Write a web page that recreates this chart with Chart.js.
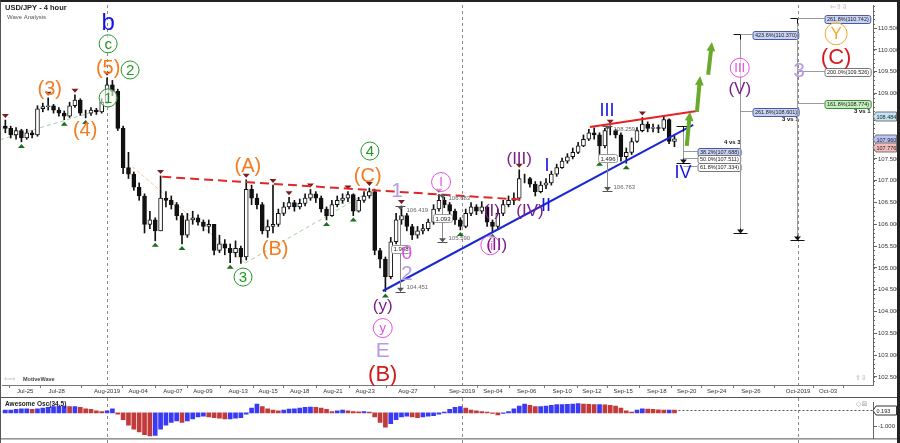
<!DOCTYPE html>
<html>
<head>
<meta charset="utf-8">
<script src="https://cdn.jsdelivr.net/npm/chart.js@4.4.0/dist/chart.umd.min.js"></script>
<style>
  html, body { margin: 0; padding: 0; background: #fff; }
  #wrap { position: relative; width: 900px; height: 443px; overflow: hidden; }
  #price { position: absolute; left: 0; top: 0; }
  #osc { position: absolute; left: 0; top: 398px; }
  #frame { position: absolute; left: 0; top: 0; width: 900px; height: 443px; box-sizing: border-box;
           border-top: 2px solid #222; border-left: 1px solid #555; border-right: 3px solid #222; pointer-events: none; }
</style>
</head>
<body>
<div id="wrap">
  <canvas id="price" width="900" height="398"></canvas>
  <canvas id="osc" width="900" height="45"></canvas>
  <div id="frame"></div>
</div>
<script>
'use strict';

// time axis (bar index units, 3 bars per trading day)
const tickLabels = ['Jul-25', 'Jul-28', 'Aug-2019', 'Aug-04', 'Aug-07', 'Aug-09', 'Aug-13', 'Aug-15',
  'Aug-18', 'Aug-21', 'Aug-23', 'Aug-27', 'Sep-2019', 'Sep-04', 'Sep-06', 'Sep-10', 'Sep-12',
  'Sep-15', 'Sep-18', 'Sep-20', 'Sep-24', 'Sep-26', 'Oct-2019', 'Oct-03'];
const tickBars = [4.7, 10.6, 20.0, 25.8, 32.3, 37.9, 44.5, 50.1, 56.0, 62.2, 68.2, 76.2, 86.3,
  92.1, 98.4, 105.0, 110.6, 116.4, 122.7, 128.3, 133.9, 140.3, 149.1, 154.7];
const monthStarts = ['Aug-2019', 'Sep-2019', 'Oct-2019'];
const priceTicks = [102.5, 103, 103.5, 104, 104.5, 105, 105.5, 106, 106.5, 107, 107.5, 108,
  108.5, 109, 109.5, 110, 110.5];

// USD/JPY 8h-ish bars
const firstOpen = 108.15;
const closes = [108.25, 108.20, 108.05, 108.15, 107.98, 108.10, 108.05, 108.65, 108.70, 108.72,
  108.62, 108.55, 108.48, 108.72, 108.85, 108.55, 108.55, 108.62, 108.58, 108.80,
  109.20, 109.05, 108.20, 107.30, 107.15, 106.85, 106.65, 106.00, 106.10, 105.85,
  106.60, 106.55, 106.45, 106.20, 105.75, 106.10, 106.15, 106.05, 105.95, 106.00,
  105.40, 105.55, 105.45, 105.35, 105.45, 105.25, 106.80, 106.60, 106.45, 105.85,
  105.95, 106.00, 106.25, 106.40, 106.50, 106.40, 106.48, 106.60, 106.70, 106.60,
  106.35, 106.20, 106.45, 106.55, 106.60, 106.68, 106.30, 106.55, 106.65, 106.75,
  105.40, 105.20, 104.80, 105.60, 106.10, 106.20, 105.95, 105.75, 105.85, 105.90,
  106.05, 106.35, 106.55, 106.45, 106.30, 106.10, 105.95, 106.25, 106.40, 106.30,
  106.40, 106.05, 105.95, 106.25, 106.45, 106.55, 106.60, 107.05, 107.05, 106.92,
  106.75, 106.90, 106.95, 107.15, 107.30, 107.45, 107.55, 107.65, 107.80, 107.95,
  108.10, 108.05, 107.80, 108.15, 108.15, 108.05, 107.55, 107.65, 107.90, 108.15,
  108.30, 108.20, 108.22, 108.20, 108.40, 107.90, 107.96];
const highs = [108.35, 108.39, 108.25, 108.22, 108.18, 108.18, 108.15, 108.72, 108.78, 108.90,
  108.75, 108.68, 108.60, 108.80, 108.97, 108.88, 108.62, 108.68, 108.66, 108.88,
  109.36, 109.30, 109.10, 108.25, 107.65, 107.20, 106.95, 106.70, 106.30, 106.15,
  107.11, 106.75, 106.65, 106.50, 106.25, 106.25, 106.30, 106.22, 106.10, 106.10,
  106.00, 105.75, 105.65, 105.55, 105.62, 105.50, 107.02, 106.90, 106.70, 106.50,
  106.10, 106.90, 106.35, 106.50, 106.62, 106.55, 106.58, 106.70, 106.80, 106.75,
  106.65, 106.40, 106.55, 106.65, 106.70, 106.75, 106.70, 106.62, 106.75, 106.83,
  106.80, 105.45, 105.25, 105.70, 106.25, 106.42, 106.25, 106.00, 105.95, 106.00,
  106.12, 106.45, 106.68, 106.62, 106.50, 106.35, 106.15, 106.35, 106.50, 106.45,
  106.52, 106.42, 106.10, 106.35, 106.55, 106.65, 106.72, 107.25, 107.15, 107.08,
  106.98, 106.98, 107.05, 107.22, 107.38, 107.52, 107.62, 107.75, 107.88, 108.05,
  108.18, 108.21, 108.10, 108.20, 108.26, 108.18, 108.10, 107.75, 107.98, 108.22,
  108.45, 108.35, 108.30, 108.28, 108.48, 108.42, 108.05];
const lows = [108.10, 108.10, 107.98, 107.95, 107.89, 107.95, 107.98, 108.02, 108.58, 108.62,
  108.55, 108.48, 108.40, 108.45, 108.68, 108.50, 108.44, 108.50, 108.52, 108.55,
  108.78, 108.95, 108.15, 107.16, 107.05, 106.78, 106.55, 105.80, 105.90, 105.62,
  105.85, 106.40, 106.35, 106.10, 105.55, 105.70, 106.00, 105.98, 105.85, 105.80,
  105.30, 105.35, 105.30, 105.12, 105.25, 105.10, 105.18, 106.45, 106.35, 105.78,
  105.70, 105.80, 105.95, 106.20, 106.35, 106.30, 106.35, 106.42, 106.55, 106.50,
  106.28, 106.10, 106.18, 106.40, 106.48, 106.52, 106.20, 106.28, 106.50, 106.60,
  105.30, 105.00, 104.46, 104.75, 105.55, 106.00, 105.85, 105.65, 105.68, 105.78,
  105.85, 106.00, 106.30, 106.38, 106.22, 106.00, 105.87, 105.92, 106.20, 106.22,
  106.25, 105.95, 105.83, 105.90, 106.20, 106.40, 106.45, 106.55, 106.95, 106.85,
  106.65, 106.72, 106.82, 106.90, 107.10, 107.28, 107.40, 107.50, 107.62, 107.78,
  107.92, 107.95, 107.48, 107.75, 108.05, 107.98, 107.45, 107.40, 107.60, 107.88,
  108.12, 108.12, 108.12, 108.10, 108.15, 107.85, 107.78];

// Awesome Oscillator, one value per bar
const aoValues = [0.15, 0.2, 0.2, 0.25, 0.3, 0.3, 0.25, 0.3, 0.35, 0.4,
  0.45, 0.5, 0.5, 0.45, 0.45, 0.4, 0.3, 0.25, 0.15, 0.1,
  0.15, 0.3, -0.1, -0.5, -0.9, -1.2, -1.4, -1.6, -1.7, -1.65,
  -1.2, -0.9, -0.7, -0.6, -0.7, -0.6, -0.45, -0.3, -0.25, -0.3,
  -0.35, -0.4, -0.45, -0.45, -0.4, -0.35, -0.1, 0.35, 0.65, 0.45,
  0.3, 0.2, 0.15, 0.2, 0.28, 0.3, 0.35, 0.4, 0.42, 0.4,
  0.35, 0.25, 0.1, 0.15, 0.2, 0.15, 0.1, 0.08, 0.1, 0.05,
  -0.3, -0.7, -1.05, -0.8, -0.5, -0.3, -0.25, -0.3, -0.35, -0.3,
  -0.25, -0.2, -0.1, 0.05, 0.25, 0.4, 0.45, 0.35, 0.2, 0.15,
  0.1, 0.05, -0.05, -0.15, -0.05, 0.1, 0.3, 0.5, 0.65, 0.55,
  0.45, 0.45, 0.5, 0.55, 0.6, 0.6, 0.62, 0.65, 0.67, 0.65,
  0.62, 0.6, 0.6, 0.58, 0.55, 0.5, 0.35, 0.15, 0.05, 0.2,
  0.3, 0.28, 0.25, 0.22, 0.2, 0.2, 0.193];
const aoTicks = [-1];

// swing markers (bar indexes)
const highMarks = [1, 9, 14, 20, 30, 46, 51, 54, 58, 65, 69, 75, 82, 97, 114, 120];
const lowMarks = [4, 12, 16, 29, 34, 43, 61, 66, 72, 86, 92, 112, 117];

// wave labels: text, bar, price, degree
const waveLabels = [
  ['b', 20.2, 110.64, 'blueBig'], ['c', 20.2, 110.14, 'greenCircle'], ['(5)', 20.2, 109.61, 'orange'],
  ['2', 24.3, 109.54, 'greenCircle'], ['(3)', 9.3, 109.13, 'orange'], ['(4)', 15.9, 108.17, 'orange'],
  ['1', 20.2, 108.90, 'greenCircle'], ['(A)', 46.3, 107.36, 'orange'], ['(B)', 51.4, 105.46, 'orange'],
  ['3', 45.4, 104.79, 'greenCircle'], ['4', 69.1, 107.68, 'greenCircle'], ['(C)', 68.7, 107.13, 'orange'],
  ['1', 74.2, 106.79, 'lavender'], ['0', 76.0, 105.34, 'pink'], ['2', 76.0, 104.89, 'lavender'],
  ['(y)', 71.5, 104.15, 'purple'], ['y', 71.5, 103.62, 'pinkCircle'], ['E', 71.5, 103.12, 'lavender'],
  ['(B)', 71.5, 102.57, 'red'], ['I', 82.4, 106.97, 'pinkCircle'], ['(I)', 91.9, 106.31, 'purple'],
  ['ii', 91.6, 105.52, 'pinkCircle'], ['(II)', 92.8, 105.53, 'purple'], ['(III)', 97.0, 107.52, 'purple'],
  ['(IV)', 99.0, 106.33, 'purple'], ['I', 102.2, 107.36, 'blue'], ['II', 102.0, 106.44, 'blue'],
  ['III', 113.4, 108.62, 'blue'], ['IV', 127.6, 107.20, 'blue'], ['III', 138.2, 109.59, 'pinkCircle'],
  ['(V)', 138.2, 109.13, 'purple'], ['3', 149.3, 109.54, 'lavender'], ['Y', 156.2, 110.37, 'orangeCircle'],
  ['(C)', 156.2, 109.84, 'red']
];

// trend lines: bar1, price1, bar2, price2, kind
const trendLines = [
  [0, 107.94, 20.5, 108.69, 'greenDash'],
  [24.7, 107.32, 45.8, 105.11, 'peachDash'],
  [45.8, 105.11, 70.1, 106.83, 'greenDash'],
  [30.3, 107.09, 98.1, 106.56, 'redDash'],
  [110.2, 108.23, 130.2, 108.60, 'red'],
  [71.5, 104.47, 129.5, 108.28, 'blue']
];
const projArrows = [
  [128.3, 107.80, 128.9, 108.58],
  [130.2, 108.58, 130.8, 109.40],
  [132.3, 109.43, 133.0, 110.18]
];

// price measurements: bar, top, bottom
const measures = [[74.7, 106.419, 104.451], [82.6, 106.683, 105.590], [113.4, 108.259, 106.763]];

// fibonacci projection tools
const fibTools = [
  { bar: 127.6, top: 108.259, bottom: 107.40, note: '4 vs 3', noteAt: 0, noteSide: -1,
    levels: [['38.2%', 107.688], ['50.0%', 107.511], ['61.8%', 107.334]] },
  { bar: 138.2, top: 110.370, bottom: 105.80, note: '3 vs 1', noteAt: 1, noteSide: 1,
    levels: [['423.6%', 110.370], ['261.8%', 108.601]] },
  { bar: 148.9, top: 110.742, bottom: 105.64, note: '3 vs 1', noteAt: 2, noteSide: 1,
    levels: [['261.8%', 110.742], ['200.0%', 109.526], ['161.8%', 108.774]] }
];
const axisQuotes = [['108.484', 'last'], ['107.960', 'ask'], ['107.776', 'bid']];

// ---- styles ----
const FONT = 'Arial, "Liberation Sans", sans-serif';
Chart.defaults.font.family = FONT;
const waveStyles = {
  orange: { color: '#f47b20', size: 20 },
  blueBig: { color: '#1414e6', size: 24 },
  blue: { color: '#1414e6', size: 18 },
  greenCircle: { color: '#249624', size: 15, r: 9 },
  purple: { color: '#7b1f8a', size: 17 },
  pink: { color: '#e24fe2', size: 19 },
  pinkCircle: { color: '#e24fe2', size: 13, r: 9.5 },
  lavender: { color: '#b79be9', size: 21 },
  red: { color: '#d61a1a', size: 22 },
  orangeCircle: { color: '#f4a62e', size: 17, r: 11 }
};
const lineStyles = {
  greenDash: { color: '#9fd39a', width: 1, dash: [4, 3] },
  peachDash: { color: '#f6c8a4', width: 1, dash: [4, 2] },
  redDash: { color: '#e02828', width: 2, dash: [9, 5] },
  red: { color: '#e82020', width: 2, dash: [] },
  blue: { color: '#1a28d2', width: 2, dash: [] }
};
const fibBoxStyle = {
  '38.2%': ['#c9d3f3', '#4a5aa8'], '423.6%': ['#c9d3f3', '#4a5aa8'], '261.8%': ['#c9d3f3', '#4a5aa8'],
  '50.0%': ['#ffffff', '#777777'], '61.8%': ['#ffffff', '#777777'], '200.0%': ['#ffffff', '#777777'],
  '161.8%': ['#c8efc0', '#3c8a3c']
};
const fibGaps = [14, 12, 27];
const quoteStyle = { last: '#c3e4f5', ask: '#b9c3f7', bid: '#f5baba' };

const opens = closes.map((c, i) => (i === 0 ? firstOpen : closes[i - 1]));

function roundBox(ctx, text, left, cy, fill, stroke, font) {
  ctx.font = font;
  const w = ctx.measureText(text).width + 4;
  ctx.beginPath();
  ctx.roundRect(left + 0.5, Math.round(cy - 4) + 0.5, w, 8, 2);
  ctx.fillStyle = fill;
  ctx.fill();
  ctx.strokeStyle = stroke;
  ctx.lineWidth = 1;
  ctx.stroke();
  ctx.fillStyle = '#222';
  ctx.textAlign = 'left';
  ctx.textBaseline = 'middle';
  ctx.fillText(text, left + 2.5, cy + 0.5);
  return w;
}

function tri(ctx, x, y, down, color) {
  ctx.fillStyle = color;
  ctx.beginPath();
  if (down) { ctx.moveTo(x - 3.5, y - 4); ctx.lineTo(x + 3.5, y - 4); ctx.lineTo(x, y); }
  else { ctx.moveTo(x - 3.5, y + 4); ctx.lineTo(x + 3.5, y + 4); ctx.lineTo(x, y); }
  ctx.closePath();
  ctx.fill();
}

function quoteBox(ctx, a, py, text, fill, stroke) {
  ctx.beginPath();
  ctx.moveTo(a.right, py); ctx.lineTo(a.right + 3, py - 4.5); ctx.lineTo(896.5, py - 4.5);
  ctx.lineTo(896.5, py + 4.5); ctx.lineTo(a.right + 3, py + 4.5); ctx.closePath();
  ctx.fillStyle = fill; ctx.fill();
  ctx.strokeStyle = stroke; ctx.lineWidth = 1; ctx.stroke();
  ctx.font = '5.5px ' + FONT; ctx.fillStyle = '#222'; ctx.textAlign = 'left'; ctx.textBaseline = 'middle';
  ctx.fillText(text, a.right + 3.5, py + 0.5);
}

function monthLines(chart, y0, y1) {
  const { ctx, scales: { x } } = chart;
  ctx.save();
  ctx.setLineDash([3, 3]);
  ctx.strokeStyle = '#8a8a8a';
  ctx.lineWidth = 1;
  monthStarts.forEach(m => {
    const px = Math.round(x.getPixelForValue(tickBars[tickLabels.indexOf(m)])) + 0.5;
    ctx.beginPath();
    ctx.moveTo(px, y0);
    ctx.lineTo(px, y1);
    ctx.stroke();
  });
  ctx.restore();
}

const wavePlugin = {
  id: 'waves',
  beforeDatasetsDraw(chart) {
    const a = chart.chartArea;
    monthLines(chart, a.top, a.bottom);
    const { ctx } = chart;
    const X = v => chart.scales.x.getPixelForValue(v);
    const Y = v => chart.scales.y.getPixelForValue(v);
    ctx.save();
    trendLines.filter(t => t[4].endsWith('Dash') && t[4] !== 'redDash').forEach(([b1, p1, b2, p2, k]) => {
      const s = lineStyles[k];
      ctx.strokeStyle = s.color; ctx.lineWidth = s.width; ctx.setLineDash(s.dash);
      ctx.beginPath(); ctx.moveTo(X(b1), Y(p1)); ctx.lineTo(X(b2), Y(p2)); ctx.stroke();
    });
    ctx.restore();
  },
  afterDatasetsDraw(chart) {
    const { ctx, chartArea: a } = chart;
    const X = v => chart.scales.x.getPixelForValue(v);
    const Y = v => chart.scales.y.getPixelForValue(v);
    ctx.save();

    // minor ticks on the price axis
    ctx.strokeStyle = '#666';
    ctx.lineWidth = 1;
    for (let v = 102.4; v < 111; v += 0.1) {
      const py = Math.round(Y(v)) + 0.5;
      if (py < a.top || py > a.bottom) continue;
      ctx.beginPath(); ctx.moveTo(a.right, py); ctx.lineTo(a.right + 2, py); ctx.stroke();
    }

    // swing markers
    highMarks.forEach(i => tri(ctx, X(i), Y(highs[i]) - 2, true, '#7a1c1c'));
    lowMarks.forEach(i => tri(ctx, X(i), Y(lows[i]) + 2, false, '#1d6e1d'));

    // main trend lines
    trendLines.filter(t => !t[4].endsWith('Dash') || t[4] === 'redDash').forEach(([b1, p1, b2, p2, k]) => {
      const s = lineStyles[k];
      ctx.strokeStyle = s.color; ctx.lineWidth = s.width; ctx.setLineDash(s.dash);
      ctx.beginPath(); ctx.moveTo(X(b1), Y(p1)); ctx.lineTo(X(b2), Y(p2)); ctx.stroke();
    });
    ctx.setLineDash([]);

    // measurements
    measures.forEach(([b, top, bot]) => {
      const px = Math.round(X(b)) + 0.5, yt = Y(top), yb = Y(bot);
      ctx.strokeStyle = '#888'; ctx.lineWidth = 1;
      ctx.beginPath(); ctx.moveTo(px, yt); ctx.lineTo(px, yb); ctx.stroke();
      ctx.strokeStyle = '#555';
      [yt, yb].forEach(yy => {
        const r = Math.round(yy) + 0.5;
        ctx.beginPath(); ctx.moveTo(px - 5, r); ctx.lineTo(px + 5, r); ctx.stroke();
      });
      tri(ctx, px, yt + 4, true, '#555');
      tri(ctx, px, yb, true, '#555');
      ctx.font = '6px ' + FONT; ctx.fillStyle = '#666'; ctx.textAlign = 'left'; ctx.textBaseline = 'middle';
      ctx.fillText(top.toFixed(3), px + 6, yt + 4);
      ctx.fillText(bot.toFixed(3), px + 6, yb - 4);
      const t = (top - bot).toFixed(3);
      const w = ctx.measureText(t).width + 4;
      roundBox(ctx, t, Math.round(px - w / 2), (yt + yb) / 2, '#fff', '#999', '6px ' + FONT);
    });

    // fib tools
    fibTools.forEach((f, k) => {
      const px = Math.round(X(f.bar)) + 0.5, yt = Math.round(Y(f.top)) + 0.5, yb = Math.round(Y(f.bottom)) + 0.5;
      ctx.strokeStyle = '#9a9a9a'; ctx.lineWidth = 1;
      ctx.beginPath(); ctx.moveTo(px, yt); ctx.lineTo(px, yb); ctx.stroke();
      ctx.strokeStyle = '#111';
      ctx.beginPath(); ctx.moveTo(px - 7, yt); ctx.lineTo(px + 7, yt); ctx.moveTo(px, yt); ctx.lineTo(px, yt + 5); ctx.stroke();
      ctx.beginPath(); ctx.moveTo(px - 7, yb); ctx.lineTo(px + 7, yb); ctx.moveTo(px, yb); ctx.lineTo(px, yb - 5); ctx.stroke();
      tri(ctx, px, yb, true, '#111');
      let noteRight = 0;
      f.levels.forEach(([pct, val], j) => {
        const ly = Math.round(Y(val)) + 0.5;
        ctx.strokeStyle = '#9a9a9a';
        ctx.beginPath(); ctx.moveTo(px, ly); ctx.lineTo(px + fibGaps[k], ly); ctx.stroke();
        const [fill, stroke] = fibBoxStyle[pct];
        const w = roundBox(ctx, `${pct}(${val.toFixed(3)})`, px + fibGaps[k], ly, fill, stroke, '5.5px ' + FONT);
        if (j === f.noteAt) noteRight = px + fibGaps[k] + w;
      });
      ctx.font = 'bold 6px ' + FONT; ctx.fillStyle = '#111'; ctx.textAlign = 'right'; ctx.textBaseline = 'middle';
      ctx.fillText(f.note, noteRight, Y(f.levels[f.noteAt][1]) + f.noteSide * 8);
    });

    // projection arrows
    ctx.strokeStyle = '#6aaa2a'; ctx.fillStyle = '#6aaa2a'; ctx.lineWidth = 4; ctx.lineCap = 'butt';
    projArrows.forEach(([b1, p1, b2, p2]) => {
      const x1 = X(b1), y1 = Y(p1), x2 = X(b2), y2 = Y(p2);
      const ang = Math.atan2(y2 - y1, x2 - x1), hl = 10;
      ctx.beginPath(); ctx.moveTo(x1, y1); ctx.lineTo(x2 - hl * 0.7 * Math.cos(ang), y2 - hl * 0.7 * Math.sin(ang)); ctx.stroke();
      ctx.beginPath(); ctx.moveTo(x2, y2);
      ctx.lineTo(x2 - hl * Math.cos(ang - 0.45), y2 - hl * Math.sin(ang - 0.45));
      ctx.lineTo(x2 - hl * Math.cos(ang + 0.45), y2 - hl * Math.sin(ang + 0.45));
      ctx.closePath(); ctx.fill();
    });

    // wave labels
    ctx.lineWidth = 1;
    waveLabels.forEach(([t, b, p, deg]) => {
      const s = waveStyles[deg];
      const x = X(b), y = Y(p);
      if (s.r) {
        ctx.beginPath(); ctx.arc(x, y, s.r, 0, Math.PI * 2);
        ctx.fillStyle = 'rgba(255,255,255,0.6)'; ctx.fill();
        ctx.strokeStyle = s.color; ctx.stroke();
      }
      ctx.font = `${s.size}px ${FONT}`;
      ctx.fillStyle = s.color; ctx.textAlign = 'center'; ctx.textBaseline = 'middle';
      ctx.fillText(t, x, y + s.size * 0.06);
    });

    // header texts
    ctx.textAlign = 'left'; ctx.textBaseline = 'middle';
    ctx.font = 'bold 7.5px ' + FONT; ctx.fillStyle = '#222';
    ctx.fillText('USD/JPY - 4 hour', 5, 8);
    ctx.font = '6px ' + FONT; ctx.fillStyle = '#555';
    ctx.fillText('Wave Analysis', 7, 17);
    ctx.font = 'bold 5.5px ' + FONT; ctx.fillStyle = '#444';
    ctx.fillText('MotiveWave', 23, a.bottom - 6);
    ctx.font = '7px "DejaVu Sans"'; ctx.fillStyle = '#aaa';
    ctx.fillText('\u21e6\u21e8', 4, a.bottom - 6);
    ctx.fillText('\u21e6\u21e7\u21e9', 830, 7);
    ctx.fillText('\u21e7\u21e9', 855, a.bottom - 7);

    // quote boxes on the price axis
    axisQuotes.forEach(([v, k]) => {
      quoteBox(ctx, a, Math.round(Y(parseFloat(v))) + 0.5, v, quoteStyle[k], '#777');
    });

    // bottom border of time axis band
    ctx.strokeStyle = '#555';
    ctx.beginPath(); ctx.moveTo(0, 397.5); ctx.lineTo(900, 397.5); ctx.stroke();
    ctx.restore();
  }
};

const priceChart = new Chart(document.getElementById('price').getContext('2d'), {
  type: 'bar',
  data: {
    datasets: [
      {
        label: 'body',
        data: closes.map((c, i) => ({ x: i, y: [opens[i], c] })),
        backgroundColor: closes.map((c, i) => (c >= opens[i] ? '#ffffff' : '#111111')),
        borderColor: '#111',
        borderWidth: 1,
        borderSkipped: false,
        barThickness: 4,
        grouped: false,
        order: 0
      },
      {
        label: 'wick',
        data: closes.map((c, i) => ({ x: i, y: [lows[i], highs[i]] })),
        backgroundColor: '#111',
        barThickness: 1,
        grouped: false,
        order: 1
      }
    ]
  },
  options: {
    responsive: false,
    animation: false,
    layout: { padding: { top: 5, left: 2, right: 0, bottom: 0 } },
    plugins: { legend: { display: false }, tooltip: { enabled: false } },
    scales: {
      x: {
        type: 'linear',
        min: 0.374,
        max: 163.09,
        offset: false,
        afterFit: s => { s.height = 13; },
        afterBuildTicks: s => { s.ticks = tickBars.map(v => ({ value: v })); },
        grid: { display: true, drawOnChartArea: false, drawTicks: true, tickLength: 3, color: '#777' },
        border: { color: '#777' },
        ticks: {
          autoSkip: false, maxRotation: 0, padding: 0, color: '#333', font: { size: 6 },
          callback: (v, i) => tickLabels[i]
        }
      },
      y: {
        position: 'right',
        min: 102.314,
        max: 111.03,
        afterFit: s => { s.width = 27; },
        afterBuildTicks: s => { s.ticks = priceTicks.map(v => ({ value: v })); },
        grid: { display: true, drawOnChartArea: false, drawTicks: true, tickLength: 4, color: '#666' },
        border: { color: '#666' },
        ticks: { padding: 1, color: '#333', font: { size: 6 }, callback: v => v.toFixed(3) }
      }
    }
  },
  plugins: [wavePlugin]
});

const oscPlugin = {
  id: 'osc',
  beforeDatasetsDraw(chart) {
    monthLines(chart, 0, 45);
    const { ctx, chartArea: a } = chart;
    const Y = v => chart.scales.y.getPixelForValue(v);
    const X = v => chart.scales.x.getPixelForValue(v);
    const last = aoValues[aoValues.length - 1];
    ctx.save();
    ctx.setLineDash([2, 2]); ctx.strokeStyle = '#555'; ctx.lineWidth = 1;
    const py = Math.round(Y(last)) + 0.5;
    ctx.beginPath(); ctx.moveTo(X(aoValues.length - 1), py); ctx.lineTo(a.right, py); ctx.stroke();
    ctx.restore();
  },
  afterDraw(chart) {
    const { ctx, chartArea: a } = chart;
    const Y = v => chart.scales.y.getPixelForValue(v);
    const last = aoValues[aoValues.length - 1];
    ctx.save();
    ctx.strokeStyle = '#555'; ctx.lineWidth = 1;
    ctx.beginPath(); ctx.moveTo(0, a.bottom + 0.5); ctx.lineTo(900, a.bottom + 0.5); ctx.stroke();
    ctx.font = 'bold 6.5px ' + FONT; ctx.fillStyle = '#222'; ctx.textAlign = 'left'; ctx.textBaseline = 'middle';
    ctx.fillText('Awesome Osc(34,5)', 5, 6);
    ctx.font = '7px "DejaVu Sans"'; ctx.fillStyle = '#aaa';
    ctx.fillText('\u25c7\u22a0', 856, 6);
    quoteBox(ctx, a, Math.round(Y(last)) + 0.5, last.toFixed(3), '#fff', '#333');
    ctx.restore();
  }
};

const oscChart = new Chart(document.getElementById('osc').getContext('2d'), {
  type: 'bar',
  data: {
    datasets: [{
      label: 'AO',
      data: aoValues.map((v, i) => ({ x: i, y: v })),
      backgroundColor: aoValues.map((v, i) => (i === 0 || v >= aoValues[i - 1] ? '#3a3af5' : '#c23a3a')),
      barThickness: 4
    }]
  },
  options: {
    responsive: false,
    animation: false,
    layout: { padding: { top: 1, left: 2, right: 0, bottom: 2 } },
    plugins: { legend: { display: false }, tooltip: { enabled: false } },
    scales: {
      x: { type: 'linear', min: 0.374, max: 163.09, offset: false, display: false },
      y: {
        position: 'right',
        min: -1.875,
        max: 0.75,
        afterFit: s => { s.width = 27; },
        afterBuildTicks: s => { s.ticks = aoTicks.map(v => ({ value: v })); },
        grid: { display: true, drawOnChartArea: false, drawTicks: true, tickLength: 4, color: '#666' },
        border: { color: '#666' },
        ticks: { padding: 1, color: '#333', font: { size: 6 }, callback: v => v.toFixed(3) }
      }
    }
  },
  plugins: [oscPlugin]
});
</script>
</body>
</html>
